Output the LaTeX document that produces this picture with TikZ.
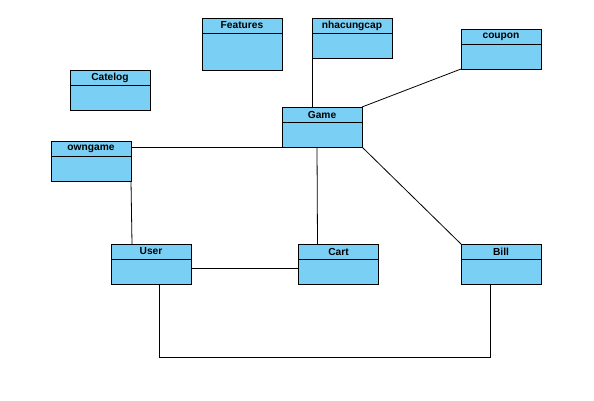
\documentclass[tikz,border=0pt]{standalone}
\usepackage{fontspec}
\setmainfont{Liberation Sans}
\definecolor{classfill}{RGB}{122,207,245}
\tikzset{
  classbox/.style={draw=black, fill=classfill, line width=0.9pt, anchor=north west,
    minimum width=80pt, minimum height=40pt, inner sep=0pt, outer sep=0pt},
  classname/.style={font=\bfseries\fontsize{10.2}{12}\selectfont, inner sep=0pt, anchor=center},
  link/.style={draw=black, line width=0.8pt},
}
% one UML class: name, left, top, height, title
\newcommand{\umlclass}[5]{%
  \node[classbox, minimum height=#4pt] (#1) at (#2,#3) {};
  \draw[line width=0.9pt] ([yshift=-15pt]#1.north west) -- ([yshift=-15pt]#1.north east);
  \node[classname] (#1-title) at ([yshift=-7.5pt]#1.north) {#5};
}
\begin{document}
\begin{tikzpicture}[x=1pt, y=-1pt]
  \useasboundingbox[fill=white] (0,0) rectangle (594,400);

  \umlclass{features}{202}{18}{52}{Features}
  \umlclass{nhacungcap}{312}{18}{40}{nhacungcap}
  \umlclass{catelog}{70}{70}{40}{Catelog}
  \umlclass{owngame}{51}{141}{40}{owngame}
  \umlclass{game}{282}{107}{40}{Game}
  \umlclass{coupon}{461}{29}{40}{coupon}
  \umlclass{user}{111}{244}{40}{User}
  \umlclass{cart}{298.5}{244}{40}{Cart}
  \umlclass{bill}{461}{244}{40}{Bill}

  \coordinate (loopL) at (159.3,357);
  \coordinate (loopR) at (490.7,357);

  \draw[link] (nhacungcap.south west) -- (nhacungcap.south west |- game.north);
  \draw[link] (coupon.south west) -- (game.north east);
  \draw[link] (game.south west) -- (game.south west -| owngame.east);
  \draw[link] (owngame.south east) -- ([xshift=21pt]user.north west);
  \draw[link] ([xshift=35pt]game.south west) -- ([xshift=19pt]cart.north west);
  \draw[link] (game.south east) -- (bill.north west);
  \draw[link] ([yshift=-4pt]user.east) -- ([yshift=-4pt]cart.west);
  \draw[link] (user.south -| loopL) -- (loopL) -- (loopR) -- (bill.south -| loopR);
\end{tikzpicture}
\end{document}
